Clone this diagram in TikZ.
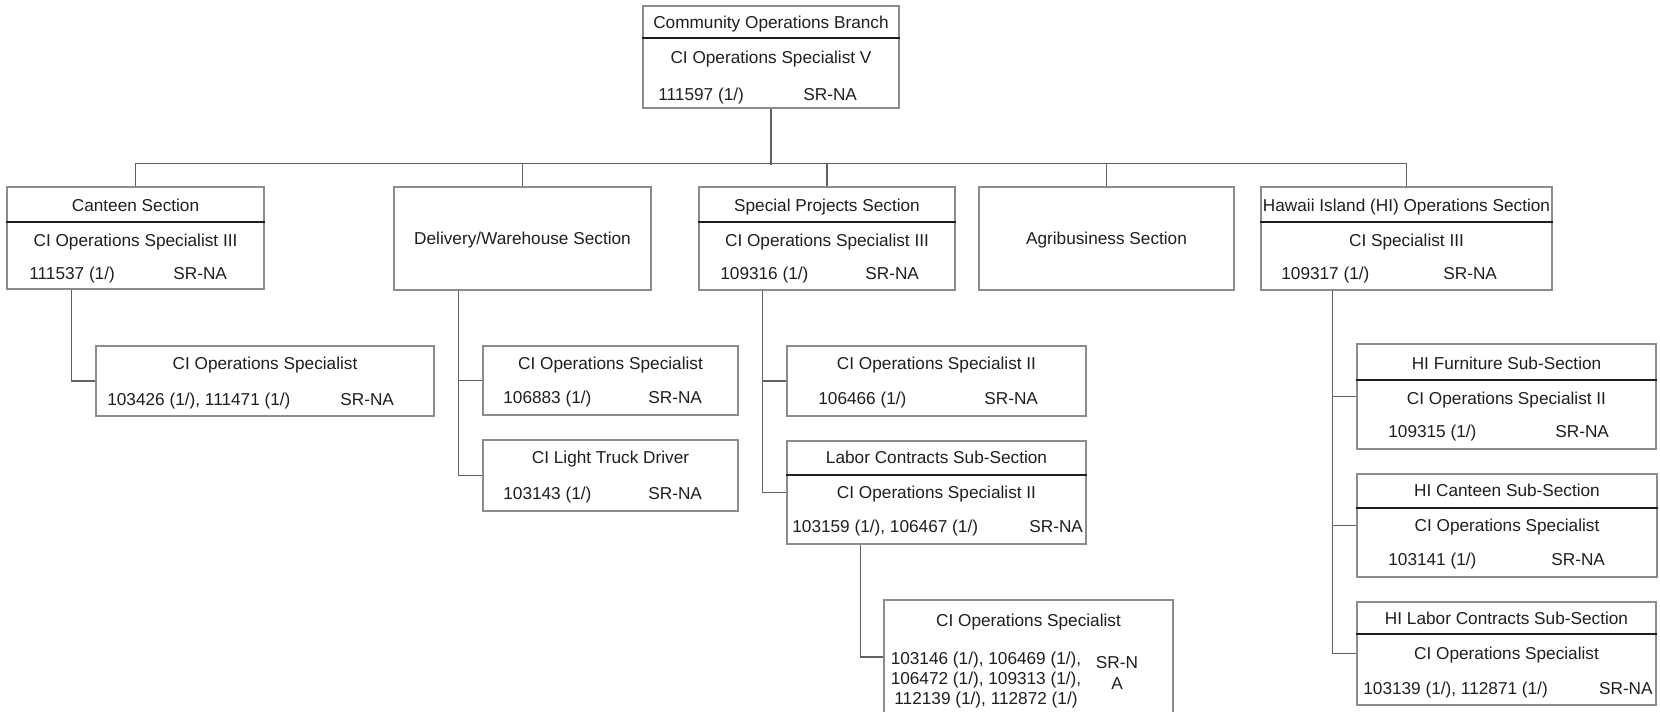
\documentclass[tikz,border=0pt]{standalone}
\usepackage{fontspec}
\setmainfont{Liberation Sans}
\usetikzlibrary{fit}

\begin{document}
\begin{tikzpicture}[
  x=0.02cm, y=-0.02cm,
  font=\fontsize{9.8}{11.6}\selectfont,
  box/.style={rectangle, draw=black!45, line width=0.8pt, inner sep=0pt},
  divline/.style={draw=black!88, line width=0.7pt},
  conn/.style={draw=black!62, line width=0.75pt},
  lbl/.style={inner sep=0pt, text height=7pt, text depth=0pt, text=black!88},
  num/.style={lbl, anchor=west},
  blk/.style={inner sep=0pt, align=center, text=black!88}
]

\path[use as bounding box, fill=white] (0,0) rectangle (1660,711);
\clip (0,0) rectangle (1660,711);

% ---------------------------------------------- branch
\node[box, fit={(643,6) (899,108)}] (branch) {};
\draw[divline] (branch.west |- 0,38) -- (branch.east |- 0,38);
\node[lbl] (branchT) at (771,22) {Community Operations Branch};
\node[lbl] (branchP) at (771,57) {CI Operations Specialist V};
\node[num] (branchN) at (658,94) {111597 (1/)};
\node[num] (branchS) at (803,94) {SR-NA};

% ---------------------------------------------- sections
\node[box, fit={(7,187) (264,289)}] (canteen) {};
\draw[divline] (canteen.west |- 0,222) -- (canteen.east |- 0,222);
\node[lbl] (canteenT) at (135.5,205) {Canteen Section};
\node[lbl] (canteenP) at (135.5,240) {CI Operations Specialist III};
\node[num] (canteenN) at (29,273) {111537 (1/)};
\node[num] (canteenS) at (173,273) {SR-NA};

\node[box, fit={(394,187) (651,290)}] (delivery) {};
\node[lbl] (deliveryT) at (522.5,238) {Delivery/Warehouse Section};

\node[box, fit={(699,187) (955,290)}] (special) {};
\draw[divline] (special.west |- 0,222) -- (special.east |- 0,222);
\node[lbl] (specialT) at (827,205) {Special Projects Section};
\node[lbl] (specialP) at (827,240) {CI Operations Specialist III};
\node[num] (specialN) at (720,273) {109316 (1/)};
\node[num] (specialS) at (865,273) {SR-NA};

\node[box, fit={(979,187) (1234,290)}] (agri) {};
\node[lbl] (agriT) at (1106.5,238) {Agribusiness Section};

\node[box, fit={(1261,187) (1552,290)}] (hawaii) {};
\draw[divline] (hawaii.west |- 0,222) -- (hawaii.east |- 0,222);
\node[lbl] (hawaiiT) at (1406.5,205) {Hawaii Island (HI) Operations Section};
\node[lbl] (hawaiiP) at (1406.5,240) {CI Specialist III};
\node[num] (hawaiiN) at (1281,273) {109317 (1/)};
\node[num] (hawaiiS) at (1443,273) {SR-NA};

% ---------------------------------------------- canteen staff
\node[box, fit={(96,346) (434,416)}] (cantOps) {};
\node[lbl] (cantOpsP) at (265,363) {CI Operations Specialist};
\node[num] (cantOpsN) at (107,399) {103426 (1/), 111471 (1/)};
\node[num] (cantOpsS) at (340,399) {SR-NA};

% ---------------------------------------------- delivery staff
\node[box, fit={(483,346) (738,415)}] (delOps) {};
\node[lbl] (delOpsP) at (610.5,363) {CI Operations Specialist};
\node[num] (delOpsN) at (503,397) {106883 (1/)};
\node[num] (delOpsS) at (648,397) {SR-NA};

\node[box, fit={(483,440) (738,511)}] (delDrv) {};
\node[lbl] (delDrvP) at (610.5,457) {CI Light Truck Driver};
\node[num] (delDrvN) at (503,493) {103143 (1/)};
\node[num] (delDrvS) at (648,493) {SR-NA};

% ---------------------------------------------- special projects staff
\node[box, fit={(787,346) (1086,416)}] (spOps) {};
\node[lbl] (spOpsP) at (936.5,363) {CI Operations Specialist II};
\node[num] (spOpsN) at (818,398) {106466 (1/)};
\node[num] (spOpsS) at (984,398) {SR-NA};

\node[box, fit={(787,441) (1086,544)}] (labor) {};
\draw[divline] (labor.west |- 0,475) -- (labor.east |- 0,475);
\node[lbl] (laborT) at (936.5,457) {Labor Contracts Sub-Section};
\node[lbl] (laborP) at (936.5,492) {CI Operations Specialist II};
\node[num] (laborN) at (792,526) {103159 (1/), 106467 (1/)};
\node[num] (laborS) at (1029,526) {SR-NA};

\node[box, fit={(884,600) (1173,714)}] (labOps) {};
\node[lbl] (labOpsP) at (1028.5,620) {CI Operations Specialist};
\node[blk] (labOpsN) at (986,680)
  {103146 (1/), 106469 (1/),\\ 106472 (1/), 109313 (1/),\\ 112139 (1/), 112872 (1/)};
\node[blk] (labOpsS) at (1117,673) {SR-N\\A};

% ---------------------------------------------- hawaii island staff
\node[box, fit={(1357,344) (1656,449)}] (hiFurn) {};
\draw[divline] (hiFurn.west |- 0,380) -- (hiFurn.east |- 0,380);
\node[lbl] (hiFurnT) at (1506.5,363) {HI Furniture Sub-Section};
\node[lbl] (hiFurnP) at (1506.5,398) {CI Operations Specialist II};
\node[num] (hiFurnN) at (1388,431) {109315 (1/)};
\node[num] (hiFurnS) at (1555,431) {SR-NA};

\node[box, fit={(1357,474) (1657,577)}] (hiCant) {};
\draw[divline] (hiCant.west |- 0,508) -- (hiCant.east |- 0,508);
\node[lbl] (hiCantT) at (1507,490) {HI Canteen Sub-Section};
\node[lbl] (hiCantP) at (1507,525) {CI Operations Specialist};
\node[num] (hiCantN) at (1388,559) {103141 (1/)};
\node[num] (hiCantS) at (1551,559) {SR-NA};

\node[box, fit={(1357,602) (1656,705)}] (hiLabor) {};
\draw[divline] (hiLabor.west |- 0,634) -- (hiLabor.east |- 0,634);
\node[lbl] (hiLaborT) at (1506.5,618) {HI Labor Contracts Sub-Section};
\node[lbl] (hiLaborP) at (1506.5,653) {CI Operations Specialist};
\node[num] (hiLaborN) at (1363,688) {103139 (1/), 112871 (1/)};
\node[lbl, anchor=east] (hiLaborS) at (1653,688) {SR-NA};

% ---------------------------------------------- connectors
\draw[conn] (branch.south) -- ++(0,56);
\draw[conn] (canteen.north) -- ++(0,-23) -| (hawaii.north);
\foreach \n in {delivery, special, agri}
  \draw[conn] (\n.north) -- ++(0,-23);

\draw[conn] (canteen.south west) ++(65,0) |- (cantOps.west);

\draw[conn] (delivery.south west) ++(65,0) |- (delOps.west);
\draw[conn] (delivery.south west) ++(65,0) |- (delDrv.west);

\draw[conn] (special.south west) ++(64,0) |- (spOps.west);
\draw[conn] (special.south west) ++(64,0) |- (labor.west);
\draw[conn] (labor.south west) ++(74,0) |- (labOps.west);

\foreach \n in {hiFurn, hiCant, hiLabor}
  \draw[conn] (hawaii.south west) ++(72,0) |- (\n.west);

\end{tikzpicture}
\end{document}
